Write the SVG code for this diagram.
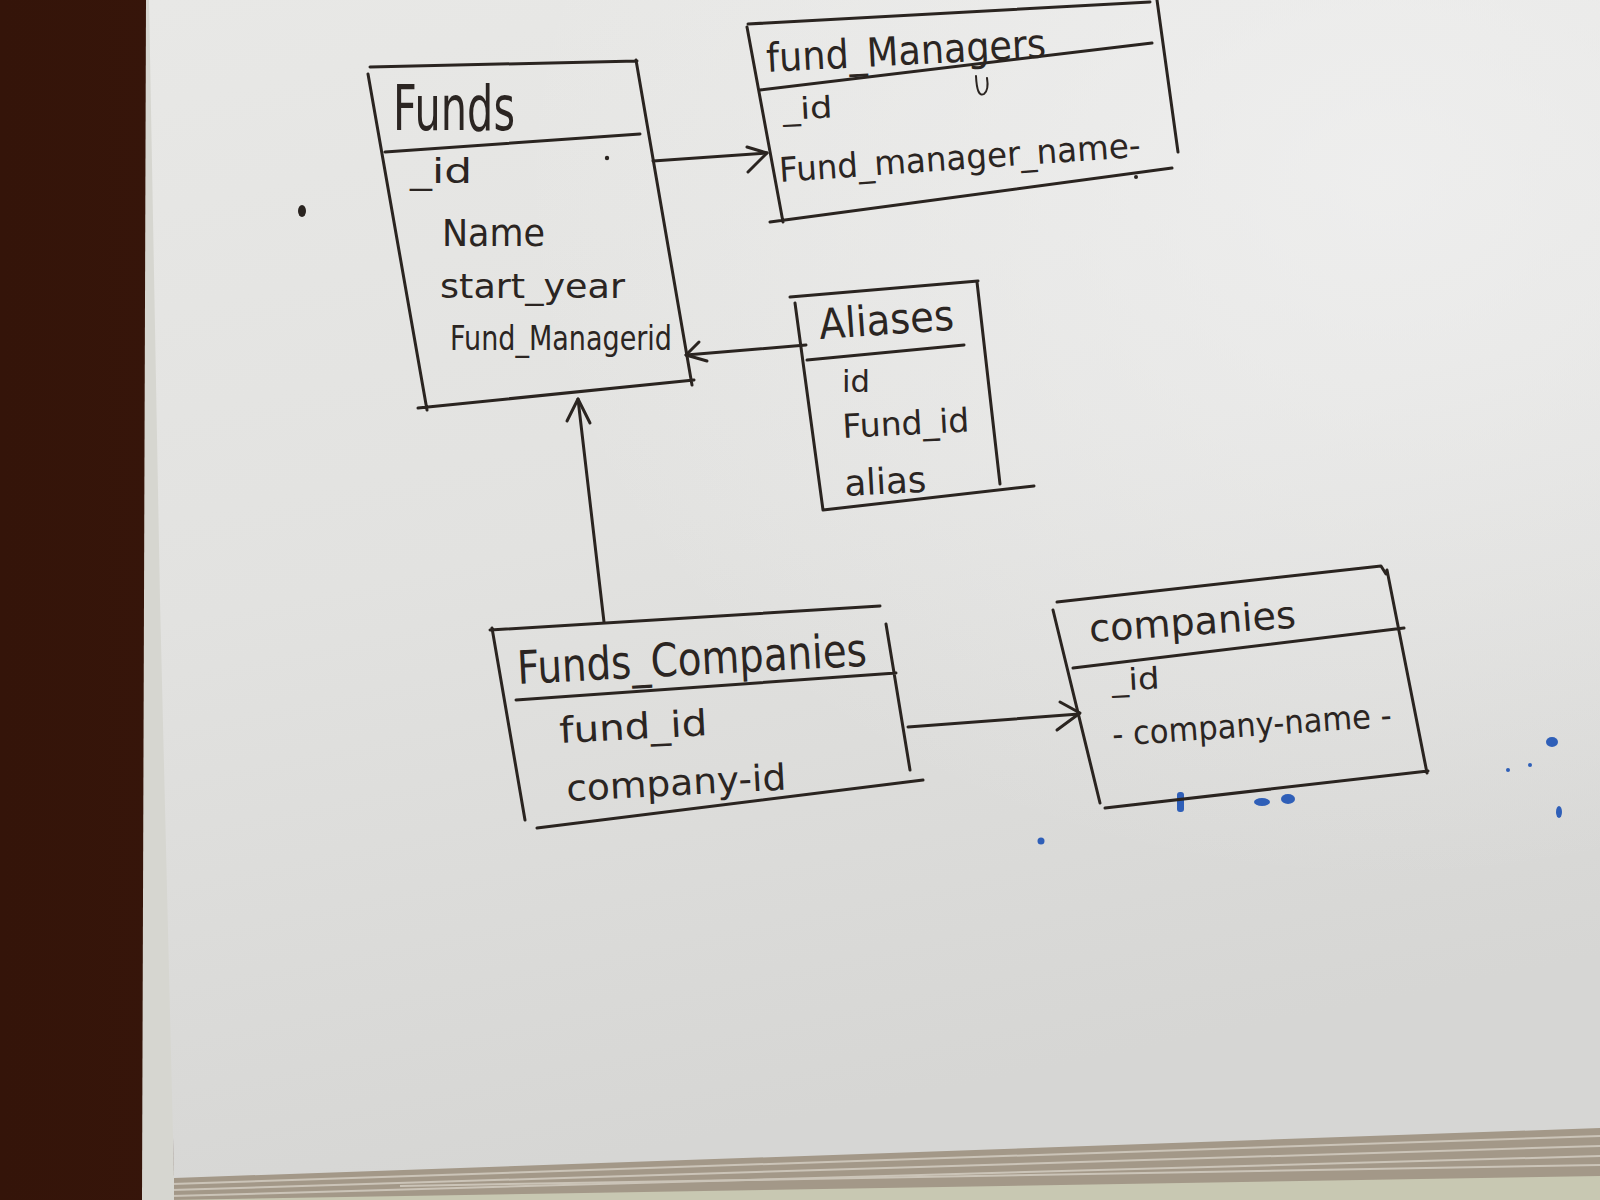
<svg xmlns="http://www.w3.org/2000/svg" width="1600" height="1200" viewBox="0 0 1600 1200">
  <defs>
    <linearGradient id="paper" x1="0" y1="0" x2="0.25" y2="1">
      <stop offset="0" stop-color="#e8e8e6"/>
      <stop offset="0.5" stop-color="#e2e2e0"/>
      <stop offset="1" stop-color="#d6d6d4"/>
    </linearGradient>
    <radialGradient id="glow" cx="0.85" cy="0.15" r="0.6">
      <stop offset="0" stop-color="#f2f2f2" stop-opacity="0.7"/>
      <stop offset="1" stop-color="#f2f2f2" stop-opacity="0"/>
    </radialGradient>
    <linearGradient id="wood" x1="0" y1="0" x2="1" y2="0">
      <stop offset="0" stop-color="#341409"/>
      <stop offset="0.5" stop-color="#40190d"/>
      <stop offset="1" stop-color="#2c1008"/>
    </linearGradient>
  </defs>
  <style>
    .ink { fill: none; stroke: #2a2420; stroke-width: 3; stroke-linecap: round; stroke-linejoin: round; }
    .txt { font-family: "DejaVu Sans", "Liberation Sans", sans-serif; fill: #2b2522; }
    .hd { font-weight: normal; }
  </style>

  <!-- background: desk, paper stack, sheet -->
  <rect x="0" y="0" width="1600" height="1200" fill="url(#wood)"/>
  <polygon points="172,1180 1600,1128 1600,1200 172,1200" fill="#c8c8b2"/>
  <polygon points="168,1176 1600,1126 1600,1176 168,1200" fill="#a39888"/>
  <g stroke="#cbc4b8" stroke-width="2" fill="none">
    <path d="M172,1184 L1600,1136"/>
    <path d="M172,1190 L1600,1146"/>
    <path d="M172,1196 L1600,1156"/>
    <path d="M400,1186 L1600,1165"/>
  </g>
  <polygon points="142,1200 146,0 160,0 174,1178 174,1200" fill="#d6d6d0"/>
  <polygon points="149,0 1600,0 1600,1128 174,1178 160,600" fill="url(#paper)"/>
  <polygon points="149,0 1600,0 1600,1128 174,1178 160,600" fill="url(#glow)"/>

  <!-- stray marks -->
  <g fill="#2a2420">
    <ellipse cx="302" cy="211" rx="4" ry="6"/>
    <circle cx="607" cy="158" r="2.2"/>
    <circle cx="1136" cy="177" r="2"/>
  </g>
  <path class="ink" d="M976,76 Q977,98 984,94 Q989,90 987,78" style="stroke-width:2"/>
  <g fill="#2f5fb8">
    <ellipse cx="1552" cy="742" rx="6" ry="5"/>
    <ellipse cx="1559" cy="812" rx="3" ry="6"/>
    <circle cx="1041" cy="841" r="3.5"/>
    <rect x="1177" y="792" width="7" height="20" rx="3"/>
    <ellipse cx="1262" cy="802" rx="8" ry="4"/>
    <ellipse cx="1288" cy="799" rx="7" ry="5"/>
    <circle cx="1508" cy="770" r="2"/>
    <circle cx="1530" cy="765" r="2"/>
  </g>

  <!-- connectors -->
  <g id="connectors">
    <g id="c-funds-managers">
      <path class="ink" d="M653,161 L767,153"/>
      <path class="ink" d="M747,147 L767,153 L748,172"/>
    </g>
    <g id="c-aliases-funds">
      <path class="ink" d="M806,345 L686,355"/>
      <path class="ink" d="M699,342 L686,355 L707,361"/>
    </g>
    <g id="c-fc-funds">
      <path class="ink" d="M604,622 L578,399"/>
      <path class="ink" d="M567,421 L578,399 L590,423"/>
    </g>
    <g id="c-fc-companies">
      <path class="ink" d="M908,727 L1079,714"/>
      <path class="ink" d="M1060,702 L1080,713 L1057,730"/>
    </g>
  </g>

  <!-- Funds -->
  <g id="node-funds">
    <path class="ink" d="M370,67 L637,61 M368,74 L427,410 M636,60 L692,385 M418,408 L694,380 M385,152 L640,134"/>
    <text class="txt hd" x="393" y="130" font-size="62" textLength="122" lengthAdjust="spacingAndGlyphs">Funds</text>
    <text class="txt" x="410" y="183" font-size="34" textLength="62" lengthAdjust="spacingAndGlyphs">_id</text>
    <text class="txt" x="442" y="246" font-size="38" textLength="103" lengthAdjust="spacingAndGlyphs">Name</text>
    <text class="txt" x="440" y="298" font-size="34" textLength="185" lengthAdjust="spacingAndGlyphs">start_year</text>
    <text class="txt" x="450" y="350" font-size="33" textLength="222" lengthAdjust="spacingAndGlyphs">Fund_Managerid</text>
  </g>

  <!-- Fund_Managers -->
  <g id="node-fund-managers">
    <path class="ink" d="M748,24 L1150,2 M747,27 L783,222 M1157,0 L1178,152 M770,222 L1172,168 M760,90 L1152,43"/>
    <text class="txt" x="767" y="72" font-size="40" textLength="280" lengthAdjust="spacingAndGlyphs" transform="rotate(-3 767 72)">fund_Managers</text>
    <text class="txt" x="783" y="120" font-size="30" textLength="50" lengthAdjust="spacingAndGlyphs" transform="rotate(-3 783 120)">_id</text>
    <text class="txt" x="780" y="182" font-size="34" textLength="362" lengthAdjust="spacingAndGlyphs" transform="rotate(-4 780 182)">Fund_manager_name-</text>
  </g>

  <!-- Aliases -->
  <g id="node-aliases">
    <path class="ink" d="M790,297 L978,281 M795,303 L823,510 M977,282 L1000,484 M823,510 L1034,486 M807,360 L964,345"/>
    <text class="txt" x="820" y="339" font-size="42" textLength="135" lengthAdjust="spacingAndGlyphs" transform="rotate(-4 820 339)">Aliases</text>
    <text class="txt" x="842" y="392" font-size="30" textLength="28" lengthAdjust="spacingAndGlyphs">id</text>
    <text class="txt" x="843" y="438" font-size="33" textLength="127" lengthAdjust="spacingAndGlyphs" transform="rotate(-3 843 438)">Fund_id</text>
    <text class="txt" x="845" y="496" font-size="36" textLength="82" lengthAdjust="spacingAndGlyphs" transform="rotate(-3 845 496)">alias</text>
  </g>

  <!-- Funds_Companies -->
  <g id="node-funds-companies">
    <path class="ink" d="M490,630 L880,606 M492,628 L525,820 M886,624 L910,770 M537,828 L923,780 M516,700 L896,673"/>
    <text class="txt" x="518" y="684" font-size="46" textLength="350" lengthAdjust="spacingAndGlyphs" transform="rotate(-3 518 684)">Funds_Companies</text>
    <text class="txt" x="560" y="743" font-size="36" textLength="148" lengthAdjust="spacingAndGlyphs" transform="rotate(-3 560 743)">fund_id</text>
    <text class="txt" x="567" y="801" font-size="36" textLength="220" lengthAdjust="spacingAndGlyphs" transform="rotate(-3 567 801)">company-id</text>
  </g>

  <!-- Companies -->
  <g id="node-companies">
    <path class="ink" d="M1057,602 L1381,566 L1386,574 M1053,610 L1100,803 M1387,570 L1427,773 M1105,808 L1428,771 M1073,668 L1404,628"/>
    <text class="txt" x="1090" y="642" font-size="38" textLength="207" lengthAdjust="spacingAndGlyphs" transform="rotate(-4 1090 642)">companies</text>
    <text class="txt" x="1112" y="691" font-size="30" textLength="48" lengthAdjust="spacingAndGlyphs" transform="rotate(-3 1112 691)">_id</text>
    <text class="txt" x="1113" y="746" font-size="33" textLength="280" lengthAdjust="spacingAndGlyphs" transform="rotate(-4 1113 746)">- company-name -</text>
  </g>
</svg>
